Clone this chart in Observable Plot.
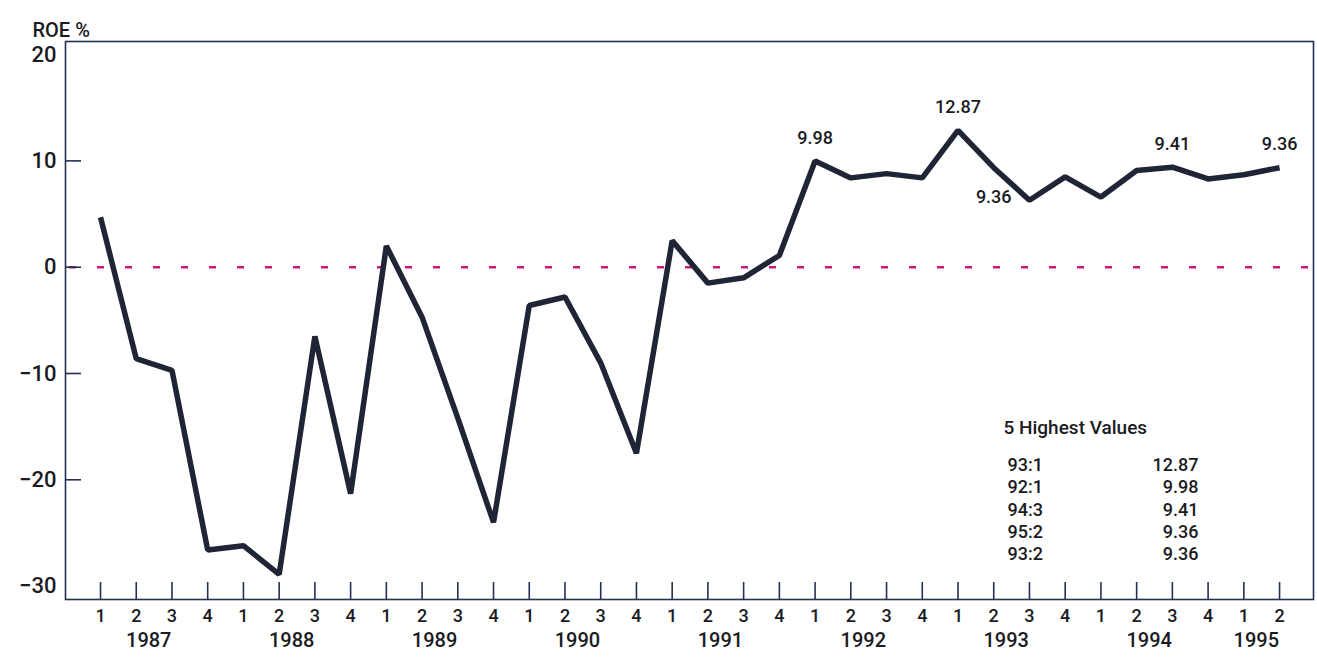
<!DOCTYPE html>
<html>
<head>
<meta charset="utf-8">
<script src="https://cdn.jsdelivr.net/npm/d3@7"></script>
<script src="https://cdn.jsdelivr.net/npm/@observablehq/plot@0.6"></script>
<style>
  html, body { margin: 0; padding: 0; background: #ffffff; }
  #chart svg { display: block; }
</style>
</head>
<body>
<div id="chart"></div>
<script>
// ---- data ----
const years = ["1987", "1988", "1989", "1990", "1991", "1992", "1993", "1994", "1995"];
const quarterLabels = [
  "1","2","3","4", "1","2","3","4", "1","2","3","4", "1","2","3","4",
  "1","2","3","4", "1","2","3","4", "1","2","3","4", "1","2","3","4",
  "1","2"
];
const roe = [
  4.7, -8.6, -9.7, -26.6,
  -26.2, -28.9, -6.5, -21.3,
  2.0, -4.7, -14.2, -24.0,
  -3.6, -2.8, -9.0, -17.5,
  2.5, -1.5, -1.0, 1.1,
  9.98, 8.4, 8.8, 8.4,
  12.87, 9.36, 6.3, 8.5,
  6.6, 9.1, 9.41, 8.3,
  8.7, 9.36
];
const yTickValues = [-30, -20, -10, 0, 10, 20];
const yInnerTicks = [-20, -10, 0, 10];
const highlightPeriods = ["93:1", "92:1", "94:3", "95:2", "93:2"];
const highlightValues = ["12.87", "9.98", "9.41", "9.36", "9.36"];
const labelsBelow = ["93:2"];
const yAxisTitle = "ROE %";
const legendTitle = "5 Highest Values";

// ---- derived tables ----
const table = roe.map((v, i) => ({
  i, v, q: quarterLabels[i], year: years[Math.floor(i / 4)]
}));
const yearTable = years.map(y => {
  const idx = table.filter(d => d.year === y).map(d => d.i);
  return {year: y, c: d3.mean(idx) - 0.15};
});
const periodIndex = p => {
  const [yy, q] = p.split(":").map(Number);
  return (1900 + yy - 1987) * 4 + (q - 1);
};
const annotations = highlightPeriods.map((p, k) => ({
  p, i: periodIndex(p), v: roe[periodIndex(p)], text: highlightValues[k]
}));

// ---- layout ----
const W = 1317, H = 658;
const mL = 65, mR = 4, mT = 41, mB = 59;
const plotW = W - mL - mR, plotH = H - mT - mB;
const ink = "#1b1b1f";
const frameColor = "#263054";
const lineColor = "#1f2535";
const font = "Roboto, 'Liberation Sans', Arial, sans-serif";
const fw = 500;

const fmt = d => d < 0 ? "\u2212" + Math.abs(d) : String(d);

const chart = Plot.plot({
  width: W,
  height: H,
  marginLeft: mL,
  marginRight: mR,
  marginTop: mT,
  marginBottom: mB,
  style: {fontFamily: font, background: "#ffffff", color: ink, overflow: "visible"},
  x: {domain: [-0.98, 33.95], axis: null},
  y: {domain: [-31.26, 21.23], axis: null},
  marks: [
    Plot.ruleY([0], {stroke: "#c8197d", strokeWidth: 2.5, strokeDasharray: "7,21", strokeDashoffset: -4}),
    Plot.tickY(yInnerTicks, {y: d => d, insetRight: plotW - 16, stroke: frameColor, strokeWidth: 1.6}),
    Plot.tickX(table, {x: "i", insetTop: plotH - 17, stroke: frameColor, strokeWidth: 1.6}),
    Plot.frame({stroke: frameColor, strokeWidth: 1.6}),
    Plot.line(table, {x: "i", y: "v", stroke: lineColor, strokeWidth: 5.5, strokeLinejoin: "miter", strokeLinecap: "butt"}),
    // y tick labels
    Plot.text(yTickValues, {y: d => d, text: fmt, frameAnchor: "left", dx: -9, textAnchor: "end", fontSize: 22, fontWeight: fw, fill: ink}),
    // quarter labels
    Plot.text(table, {x: "i", text: "q", frameAnchor: "bottom", dy: 22, fontSize: 18, fontWeight: fw, fill: ink}),
    // year labels
    Plot.text(yearTable, {x: "c", text: "year", frameAnchor: "bottom", dy: 47, fontSize: 20, fontWeight: fw, fill: ink}),
    // value annotations
    Plot.text(annotations.filter(d => !labelsBelow.includes(d.p)), {x: "i", y: "v", text: "text", dy: -23, fontSize: 18, fontWeight: fw, fill: ink}),
    Plot.text(annotations.filter(d => labelsBelow.includes(d.p)), {x: "i", y: "v", text: "text", dy: 30, fontSize: 18, fontWeight: fw, fill: ink}),
    // y axis title
    Plot.text([yAxisTitle], {text: d => d, frameAnchor: "top-left", dx: -33, dy: -19, textAnchor: "start", fontSize: 20, fontWeight: fw, fill: ink, style: "word-spacing:4px"}),
    // legend box (five highest values)
    Plot.text([legendTitle], {text: d => d, frameAnchor: "bottom-right", dx: -310, dy: -166, textAnchor: "start", fontSize: 19, fontWeight: fw, fill: ink, style: "word-spacing:9px"}),
    Plot.text([highlightPeriods.join("\n")], {text: d => d, frameAnchor: "bottom-right", dx: -306, dy: -91, textAnchor: "start", lineAnchor: "middle", lineHeight: 1.245, fontSize: 18, fontWeight: fw, fill: ink}),
    Plot.text([highlightValues.join("\n")], {text: d => d, frameAnchor: "bottom-right", dx: -115, dy: -91, textAnchor: "end", lineAnchor: "middle", lineHeight: 1.245, fontSize: 18, fontWeight: fw, fill: ink})
  ]
});
document.getElementById("chart").appendChild(chart);
</script>
</body>
</html>
